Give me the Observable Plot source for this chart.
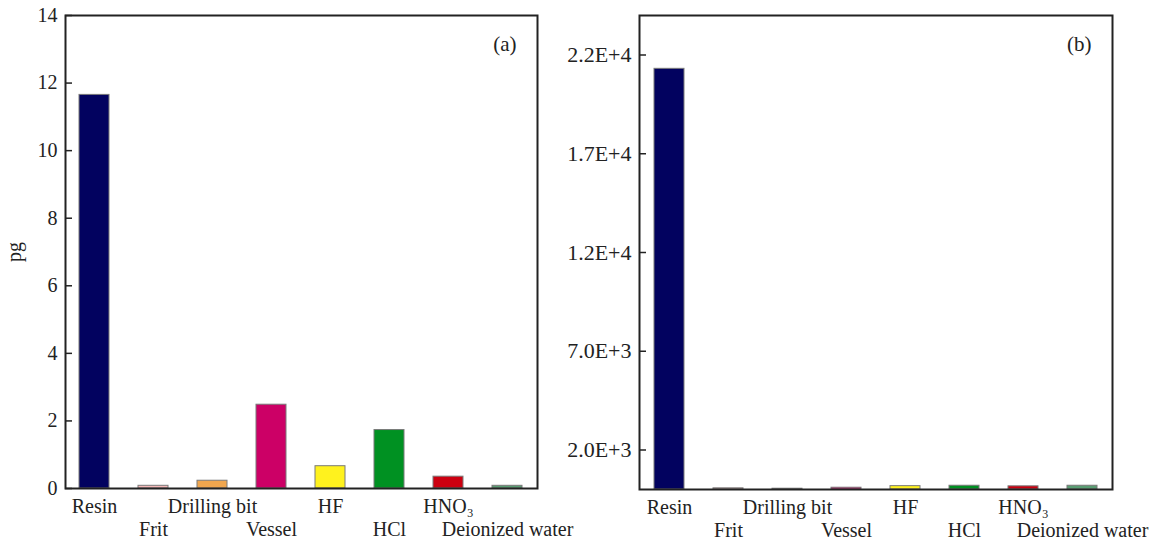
<!DOCTYPE html>
<html>
<head>
<meta charset="utf-8">
<script src="https://cdn.jsdelivr.net/npm/d3@7"></script>
<script src="https://cdn.jsdelivr.net/npm/@observablehq/plot@0.6"></script>
<style>
  html, body { margin: 0; padding: 0; background: #fff; }
  #wrap { position: relative; width: 1156px; height: 541px; overflow: hidden; background: #fff; }
  #wrap svg { position: absolute; top: 0; background: transparent; overflow: visible; }
</style>
</head>
<body>
<div id="wrap"></div>
<script>
const categories = ["Resin", "Frit", "Drilling bit", "Vessel", "HF", "HCl", "HNO₃", "Deionized water"];
const colors = ["#02025f", "#f6b9b9", "#f0a64e", "#cc0066", "#fff21e", "#009122", "#cc0010", "#5a9e73"];
const valuesA = [11.65, 0.08, 0.23, 2.48, 0.66, 1.73, 0.35, 0.08];
const valuesB = [21300, 60, 40, 90, 170, 190, 160, 190];
const ticksA = [0, 2, 4, 6, 8, 10, 12, 14];
const ticksB = [2000, 7000, 12000, 17000, 22000];
const tickLabelsB = ["2.0E+3", "7.0E+3", "1.2E+4", "1.7E+4", "2.2E+4"];
const panelLabels = ["(a)", "(b)"];

const font = "'Liberation Serif', 'Times New Roman', serif";

function panel({values, domain, ticks, tickFormat, tickFontSize, label, marginLeft, marginRight, marginBottom, yLabel}) {
  const data = categories.map((c, i) => ({cat: c, v: values[i], color: colors[i], i}));
  const row1 = data.filter(d => d.i % 2 === 0);
  const row2 = data.filter(d => d.i % 2 === 1);
  const marks = [
    Plot.barY(data, {x: "cat", y: "v", fill: "color", stroke: "#7a7a7a", strokeWidth: 1}),
    Plot.axisY({ticks, tickFormat, tickSize: 7, tickPadding: 8, dx: 7, fontSize: tickFontSize, stroke: "#222", strokeWidth: 1.5, fill: "#222",
      label: yLabel, labelAnchor: "center", labelArrow: "none", labelOffset: marginLeft - 6}),
    Plot.text(row1, {x: "cat", text: "cat", frameAnchor: "bottom", lineAnchor: "middle", dy: 18, fontSize: 20, fill: "#222"}),
    Plot.text(row2, {x: "cat", text: "cat", frameAnchor: "bottom", lineAnchor: "middle", dy: 41, fontSize: 20, fill: "#222"}),
    Plot.text([label], {frameAnchor: "top-right", lineAnchor: "middle", dx: -21, dy: 29, fontSize: 21, fill: "#222"}),
    Plot.frame({stroke: "#222", strokeWidth: 2})
  ];
  return Plot.plot({
    width: 600,
    height: 541,
    marginTop: 15,
    marginBottom,
    marginLeft,
    marginRight,
    style: {fontFamily: font, fontSize: "20px", background: "transparent", color: "#222"},
    x: {domain: categories, paddingInner: 0.49, paddingOuter: 0.245, axis: null},
    y: {domain, axis: null},
    marks
  });
}

const wrap = document.getElementById("wrap");

const a = panel({
  values: valuesA, domain: [0, 14], ticks: ticksA, tickFormat: d => String(d), tickFontSize: 20,
  label: panelLabels[0], marginLeft: 65, marginRight: 63, marginBottom: 53, yLabel: "pg"
});
a.style.left = "0px";
wrap.appendChild(a);

const b = panel({
  values: valuesB, domain: [0, 24000], ticks: ticksB, tickFormat: d => tickLabelsB[ticksB.indexOf(d)], tickFontSize: 22,
  label: panelLabels[1], marginLeft: 83, marginRight: 44, marginBottom: 52, yLabel: null
});
b.style.left = "556px";
wrap.appendChild(b);
</script>
</body>
</html>
